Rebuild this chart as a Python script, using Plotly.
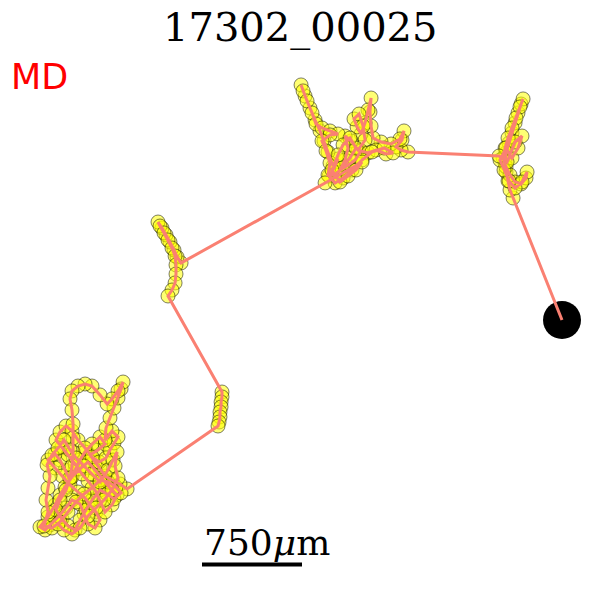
import plotly.graph_objects as go

# track of one animal, positions in um (x right, y up), starting point first
start_x = [4215]
start_y = [2100]

# right cluster
right_x = [3848, 3825, 3810, 3795, 3788, 3795, 3818, 3840, 3863, 3885, 3908, 3923, 3900, 3870, 3840,
           3810, 3788, 3773, 3795, 3825, 3863, 3908, 3945, 3953, 3915, 3863, 3818, 3780, 3750, 3795,
           3840, 3885, 3915, 3863, 3803, 3743]
right_y = [3015, 3075, 3143, 3210, 3278, 3353, 3428, 3503, 3578, 3653, 3720, 3758, 3698, 3615, 3540,
           3465, 3390, 3315, 3248, 3188, 3135, 3120, 3165, 3210, 3135, 3090, 3143, 3225, 3300, 3390,
           3315, 3390, 3480, 3435, 3285, 3330]

# top middle cluster
top_x = [3060, 3008, 2970, 3015, 3030, 3000, 2933, 2858, 2798, 2783, 2775, 2783, 2760, 2738, 2708,
         2678, 2655, 2693, 2723, 2738, 2685, 2633, 2588, 2610, 2588, 2550, 2603, 2663, 2708, 2760,
         2820, 2895, 2948, 2880, 2790, 2715, 2640, 2573, 2513, 2468, 2505, 2535, 2498, 2460, 2430,
         2400, 2363, 2325, 2288, 2258, 2273, 2303, 2340, 2370, 2415, 2475, 2535, 2475, 2415, 2445,
         2475, 2460, 2513, 2565, 2625, 2670, 2625, 2573, 2535, 2490, 2550, 2610, 2670, 2715, 2438]
top_y = [3360, 3375, 3398, 3450, 3518, 3458, 3420, 3435, 3465, 3555, 3660, 3765, 3675, 3578, 3495,
         3548, 3608, 3645, 3555, 3450, 3375, 3443, 3480, 3390, 3300, 3225, 3255, 3300, 3368, 3353,
         3375, 3345, 3353, 3390, 3360, 3300, 3225, 3165, 3128, 3180, 3240, 3308, 3255, 3360, 3443,
         3518, 3600, 3690, 3780, 3863, 3818, 3743, 3653, 3570, 3540, 3518, 3495, 3488, 3443, 3368,
         3278, 3188, 3188, 3240, 3315, 3390, 3465, 3413, 3338, 3225, 3135, 3180, 3225, 3285, 3128]

# left middle cluster
mid_x = [1358, 1328, 1305, 1275, 1245, 1215, 1185, 1200, 1230, 1260, 1290, 1313, 1320, 1320, 1313,
         1290, 1260]
mid_y = [2528, 2573, 2625, 2685, 2738, 2790, 2835, 2805, 2753, 2700, 2640, 2580, 2513, 2445, 2378,
         2325, 2280]

# small cluster
small_x = [1665, 1665, 1658, 1658, 1650, 1650, 1643, 1635]
small_y = [1560, 1523, 1485, 1448, 1410, 1373, 1335, 1305]

# bottom left cluster
low_x = [953, 900, 840, 788, 750, 713, 675, 735, 788, 750, 690, 638, 600, 563, 525, 488, 450, 413,
         360, 413, 465, 525, 585, 638, 675, 720, 750, 713, 660, 630, 600, 540, 495, 450, 413, 375,
         338, 300, 360, 413, 450, 488, 540, 600, 660, 713, 765, 825, 878, 840, 788, 750, 713, 660,
         615, 563, 510, 465, 420, 450, 495, 540, 585, 638, 690, 743, 795, 825, 855, 885, 840, 788,
         795, 825, 855, 885, 908, 923, 885, 840, 803, 750, 690, 638, 585, 540, 525, 540, 548, 548,
         548, 540, 525, 495, 450, 420, 465, 510, 563, 600, 645, 690, 750, 803, 855, 908, 870, 810,
         750, 690, 630, 570, 510, 450, 390, 330, 360, 345, 360, 375, 353, 390, 435, 480, 525, 570,
         630, 690, 750, 810, 848, 878, 863, 885, 840, 780, 720, 660, 600, 540, 480, 435]
low_y = [833, 870, 900, 930, 983, 1035, 1088, 1125, 1170, 1223, 1170, 1110, 1050, 975, 900, 975,
         1050, 1095, 1050, 990, 930, 863, 810, 765, 713, 660, 600, 540, 570, 645, 720, 750, 690,
         638, 600, 563, 525, 548, 623, 713, 788, 848, 923, 983, 1035, 975, 915, 840, 788, 713, 660,
         750, 825, 893, 945, 1020, 1088, 1148, 1200, 1260, 1305, 1268, 1200, 1140, 1073, 1035, 1065,
         1125, 1178, 1223, 1268, 1200, 1290, 1365, 1440, 1515, 1583, 1635, 1568, 1508, 1470, 1538,
         1605, 1620, 1605, 1568, 1508, 1425, 1320, 1215, 1110, 1005, 915, 825, 750, 675, 608, 555,
         525, 600, 675, 750, 825, 795, 758, 803, 848, 885, 900, 840, 795, 735, 660, 585, 540, 555,
         660, 750, 840, 930, 1013, 1088, 1140, 1200, 1125, 1065, 1005, 945, 885, 975, 1050, 1110,
         1005, 915, 825, 750, 690, 630, 540, 495, 525, 570]

title_text = "17302_00025"
label_text = "MD"
scalebar_um = 750
scalebar_x0 = 1515
scalebar_y = 266

track_x = start_x + right_x + top_x + mid_x + small_x + low_x
track_y = start_y + right_y + top_y + mid_y + small_y + low_y

fig = go.Figure()
fig.add_trace(go.Scatter(x=track_x, y=track_y, mode="markers",
                         marker=dict(size=14, color="rgba(255,255,0,0.55)",
                                     line=dict(color="rgba(0,0,0,0.5)", width=1))))
fig.add_trace(go.Scatter(x=start_x, y=start_y, mode="markers",
                         marker=dict(size=38, color="black")))
fig.add_trace(go.Scatter(x=track_x, y=track_y, mode="lines",
                         line=dict(color="#fa8072", width=3)))
fig.add_trace(go.Scatter(x=[scalebar_x0, scalebar_x0 + scalebar_um], y=[scalebar_y, scalebar_y],
                         mode="lines", line=dict(color="black", width=4)))

fig.add_annotation(x=0.487, y=0.968, xref="paper", yref="paper", xanchor="center", yanchor="middle",
                   text=title_text, showarrow=False,
                   font=dict(family="DejaVu Serif", size=40, color="black"))
fig.add_annotation(x=0.052, y=0.885, xref="paper", yref="paper", xanchor="center", yanchor="middle",
                   text=label_text, showarrow=False,
                   font=dict(family="DejaVu Sans", size=35, color="red"))
fig.add_annotation(x=scalebar_x0, y=scalebar_y, xref="x", yref="y", xanchor="left", yanchor="bottom",
                   text=f"{scalebar_um}<i>\u03bc</i>m", showarrow=False,
                   font=dict(family="DejaVu Serif", size=36, color="black"))

fig.update_layout(width=600, height=600, margin=dict(l=0, r=0, t=0, b=0),
                  showlegend=False, plot_bgcolor="white", paper_bgcolor="white",
                  xaxis=dict(range=[60, 4560], visible=False),
                  yaxis=dict(range=[-60, 4440], visible=False))
fig.write_html("out.html")
